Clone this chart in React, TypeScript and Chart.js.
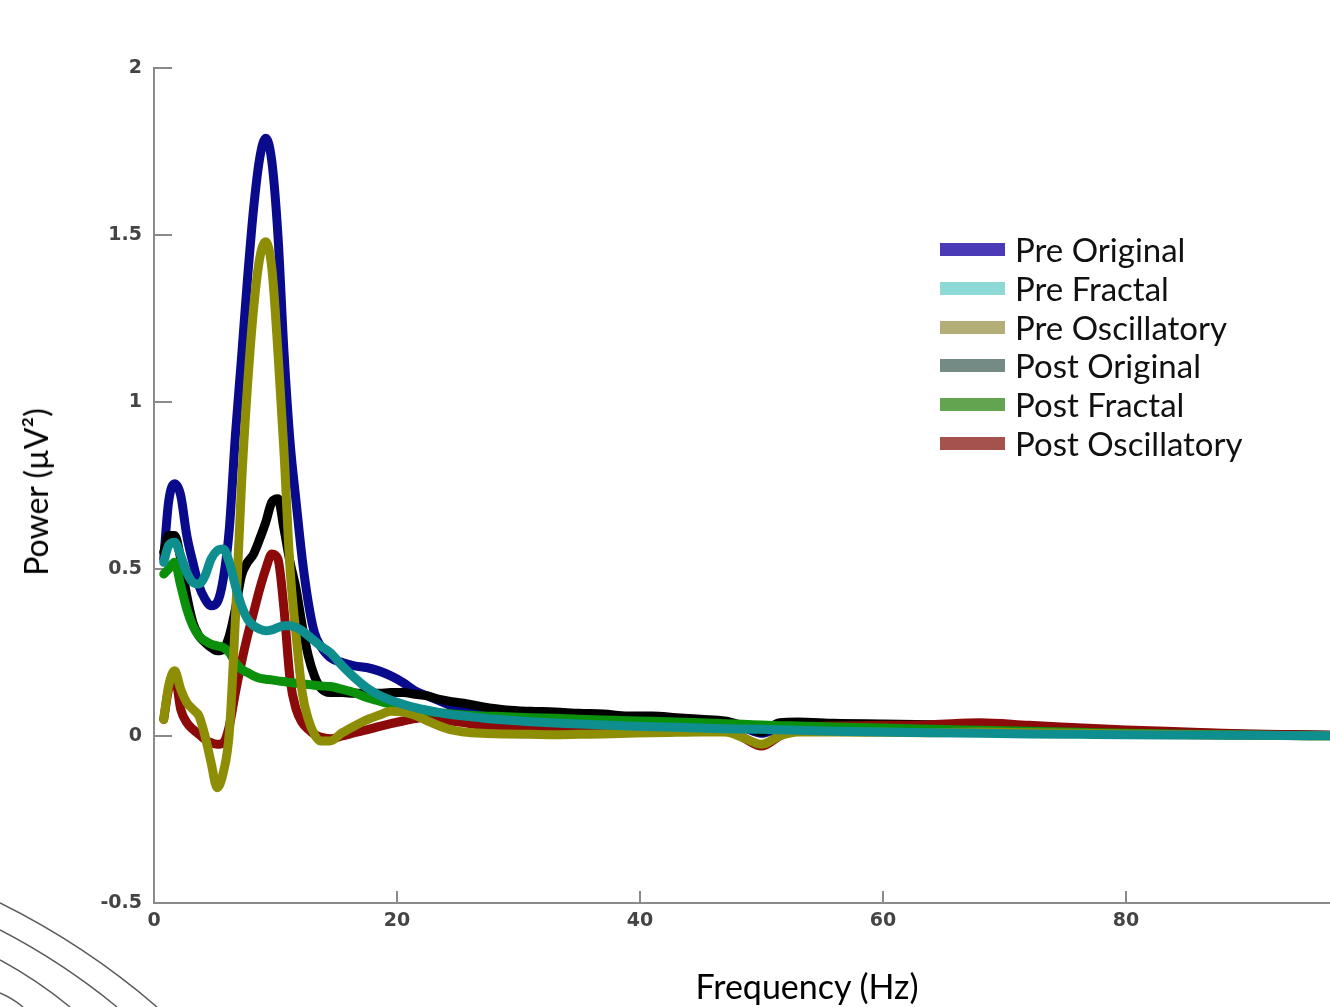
import React, { useEffect, useRef } from "react";
import { Chart, registerables } from "chart.js";

Chart.register(...registerables);

// ---- Data ----
const freqs = [
  0.8, 1.2, 1.7, 2.2, 2.7, 3.2, 3.7, 4.2, 4.7, 5.2, 5.7, 6.2, 6.7, 7.2, 7.7, 8.2, 8.7, 9.2, 9.7, 10.2,
  10.7, 11.2, 11.7, 12.2, 12.7, 13.2, 13.7, 14.5, 15.5, 16.5, 17.5, 18.5, 19.5, 20.5, 21.5, 22.5, 23.5,
  24.5, 25.5, 27, 29, 31, 33, 35, 37, 39, 41, 43, 45, 47, 48.5, 50, 51.5, 53, 56, 60, 64, 68, 72, 76,
  80, 85, 90, 95, 100,
];

const preOriginal = [
  0.53, 0.7, 0.755, 0.72, 0.6, 0.52, 0.45, 0.41, 0.39, 0.4, 0.47, 0.62, 0.9, 1.13, 1.37, 1.58, 1.73, 1.79, 1.72, 1.5,
  1.15, 0.88, 0.7, 0.53, 0.4, 0.31, 0.27, 0.235, 0.22, 0.21, 0.205, 0.195, 0.18, 0.16, 0.135, 0.12, 0.105,
  0.09, 0.078, 0.066, 0.058, 0.054, 0.05, 0.048, 0.045, 0.042, 0.04, 0.038, 0.037, 0.035, 0.025, 0.008, 0.025, 0.03, 0.028, 0.024, 0.02, 0.017, 0.013, 0.01,
  0.008, 0.005, 0.003, 0.002, 0.001,
];

const preFractal = [
  0.52, 0.57, 0.58, 0.54, 0.49, 0.46, 0.455, 0.48, 0.53, 0.555, 0.56, 0.52, 0.45, 0.39, 0.35, 0.33, 0.32, 0.315, 0.318, 0.325,
  0.33, 0.33, 0.325, 0.315, 0.3, 0.285, 0.27, 0.25, 0.21, 0.175, 0.145, 0.123, 0.107, 0.095, 0.085, 0.077, 0.07,
  0.064, 0.06, 0.054, 0.048, 0.043, 0.039, 0.036, 0.033, 0.03, 0.028, 0.026, 0.024, 0.022, 0.021, 0.02, 0.019, 0.017, 0.014, 0.012, 0.01, 0.008, 0.006, 0.005,
  0.004, 0.003, 0.002, 0.001, 0.0,
];

const preOscillatory = [
  0.05, 0.15, 0.195, 0.14, 0.1, 0.08, 0.06, 0.0, -0.08, -0.155, -0.11, 0.01, 0.35, 0.75, 1.05, 1.28, 1.43, 1.48, 1.4, 1.15,
  0.85, 0.5, 0.3, 0.13, 0.05, 0.005, -0.015, -0.015, 0.01, 0.03, 0.048, 0.062, 0.074, 0.072, 0.062, 0.045, 0.03,
  0.018, 0.012, 0.008, 0.006, 0.005, 0.004, 0.005, 0.006, 0.008, 0.01, 0.011, 0.012, 0.012, -0.005, -0.025, 0.0, 0.012, 0.012, 0.011, 0.01, 0.012, 0.01, 0.008,
  0.006, 0.004, 0.002, 0.001, 0.0,
];

const postOriginal = [
  0.55, 0.6, 0.6, 0.53, 0.42, 0.34, 0.3, 0.28, 0.265, 0.255, 0.26, 0.3, 0.38, 0.48, 0.52, 0.545, 0.59, 0.64, 0.7, 0.71,
  0.62, 0.52, 0.44, 0.33, 0.24, 0.18, 0.145, 0.13, 0.13, 0.128, 0.128, 0.128, 0.13, 0.13, 0.125, 0.12, 0.11,
  0.103, 0.098, 0.088, 0.078, 0.074, 0.072, 0.068, 0.066, 0.06, 0.06, 0.055, 0.05, 0.045, 0.03, 0.012, 0.04, 0.042, 0.038, 0.036, 0.034, 0.03, 0.025, 0.02,
  0.015, 0.01, 0.005, 0.003, 0.001,
];

const postFractal = [
  0.485, 0.5, 0.52, 0.45, 0.38, 0.33, 0.3, 0.285, 0.275, 0.27, 0.265, 0.25, 0.22, 0.2, 0.19, 0.18, 0.173, 0.17, 0.168, 0.165,
  0.163, 0.16, 0.158, 0.156, 0.154, 0.152, 0.15, 0.148, 0.14, 0.13, 0.115, 0.105, 0.095, 0.087, 0.08, 0.074, 0.07,
  0.066, 0.063, 0.06, 0.058, 0.055, 0.053, 0.05, 0.048, 0.046, 0.044, 0.042, 0.04, 0.037, 0.035, 0.033, 0.031, 0.03, 0.027, 0.024, 0.02, 0.017, 0.014, 0.011,
  0.008, 0.005, 0.003, 0.001, 0.0,
];

const postOscillatory = [
  0.05, 0.14, 0.18, 0.08, 0.04, 0.02, 0.005, -0.01, -0.02, -0.025, -0.02, 0.03, 0.13, 0.22, 0.3, 0.37, 0.44, 0.5, 0.545, 0.53,
  0.38, 0.17, 0.08, 0.04, 0.02, 0.005, -0.003, -0.008, 0.0, 0.01, 0.018, 0.028, 0.037, 0.045, 0.052, 0.056, 0.052,
  0.045, 0.04, 0.032, 0.026, 0.022, 0.019, 0.017, 0.016, 0.015, 0.016, 0.018, 0.02, 0.02, -0.005, -0.03, 0.0, 0.025, 0.03, 0.032, 0.034, 0.04, 0.032, 0.025,
  0.018, 0.012, 0.006, 0.003, 0.001,
];

const seriesNames = ["Pre Original", "Pre Fractal", "Pre Oscillatory", "Post Original", "Post Fractal", "Post Oscillatory"];
const seriesValues = [preOriginal, preFractal, preOscillatory, postOriginal, postFractal, postOscillatory];
const lineColors = ["#0a0a8c", "#0e8e8e", "#8e8e06", "#000000", "#0a900a", "#8c0a0a"];
const legendColors = ["#4b3ab5", "#8dd9d6", "#b5ad78", "#738a85", "#62a450", "#a5524e"];
// lower = drawn on top
const drawOrder = [6, 1, 2, 5, 3, 4];

const xTickValues = [0, 20, 40, 60, 80];
const yTickValues = [-0.5, 0, 0.5, 1, 1.5, 2];

const inwardTicks = {
  id: "inwardTicks",
  beforeDatasetsDraw(chart: any) {
    const { ctx, chartArea, scales } = chart;
    ctx.save();
    ctx.strokeStyle = "#8a8a8a";
    ctx.lineWidth = 2;
    ctx.beginPath();
    for (const v of yTickValues) {
      const py = Math.round(scales.y.getPixelForValue(v));
      ctx.moveTo(chartArea.left, py);
      ctx.lineTo(chartArea.left + 18, py);
    }
    for (const v of xTickValues) {
      const px = Math.round(scales.x.getPixelForValue(v));
      ctx.moveTo(px, chartArea.bottom);
      ctx.lineTo(px, chartArea.bottom - 12);
    }
    ctx.stroke();
    ctx.restore();
  },
};

const cornerArcs = {
  id: "cornerArcs",
  afterDraw(chart: any) {
    const { ctx } = chart;
    ctx.save();
    ctx.strokeStyle = "#5a5a5a";
    ctx.lineWidth = 1.5;
    const arcs = [
      [0, 903, 85, 945, 157, 1007],
      [0, 930, 62, 962, 117, 1007],
      [0, 960, 37, 980, 70, 1007],
      [0, 993, 12, 998, 23, 1007],
    ];
    for (const a of arcs) {
      ctx.beginPath();
      ctx.moveTo(a[0], a[1]);
      ctx.quadraticCurveTo(a[2], a[3], a[4], a[5]);
      ctx.stroke();
    }
    ctx.restore();
  },
};

export default function App() {
  const canvasRef = useRef<HTMLCanvasElement | null>(null);

  useEffect(() => {
    if (!canvasRef.current) return;
    const datasets = seriesValues.map((vals, i) => ({
      label: seriesNames[i],
      data: freqs.map((f, j) => ({ x: f, y: vals[j] })),
      borderColor: lineColors[i],
      backgroundColor: lineColors[i],
      borderWidth: 9,
      pointRadius: 0,
      cubicInterpolationMode: "monotone" as const,
      borderJoinStyle: "round" as const,
      borderCapStyle: "round" as const,
      fill: false,
      order: drawOrder[i],
    }));
    const tickFont = { family: "'DejaVu Sans', sans-serif", size: 19, weight: "bold" as const };
    const chart = new Chart(canvasRef.current, {
      type: "line",
      data: { datasets },
      plugins: [inwardTicks, cornerArcs],
      options: {
        animation: false,
        responsive: true,
        maintainAspectRatio: false,
        layout: { padding: { top: 68, left: 0, right: 0, bottom: 0 } },
        plugins: { legend: { display: false }, tooltip: { enabled: false } },
        scales: {
          x: {
            type: "linear",
            min: 0,
            max: 96.8,
            afterBuildTicks: (scale: any) => {
              scale.ticks = xTickValues.map((v) => ({ value: v }));
            },
            afterFit: (scale: any) => {
              scale.height = 104;
            },
            grid: { display: false, drawTicks: false },
            border: { display: true, color: "#8a8a8a", width: 2 },
            ticks: {
              color: "#444444",
              padding: 7,
              maxRotation: 0,
              font: tickFont,
              callback: (v: any) => `${v}`,
            },
          },
          y: {
            type: "linear",
            min: -0.5,
            max: 2,
            afterBuildTicks: (scale: any) => {
              scale.ticks = yTickValues.map((v) => ({ value: v }));
            },
            afterFit: (scale: any) => {
              scale.width = 154;
            },
            grid: { display: false, drawTicks: false },
            border: { display: true, color: "#8a8a8a", width: 2 },
            ticks: {
              color: "#444444",
              padding: 12,
              font: tickFont,
              callback: (v: any) => `${v}`,
            },
          },
        },
      },
    });
    return () => chart.destroy();
  }, []);

  return (
    <div style={{ position: "fixed", left: 0, top: 0, width: 1330, height: 1007, overflow: "hidden", background: "#fff" }}>
      <canvas ref={canvasRef} />
      <div
        style={{
          position: "absolute",
          left: 36,
          top: 492,
          transform: "translate(-50%, -50%) rotate(-90deg)",
          whiteSpace: "nowrap",
          fontFamily: "Lato, 'Noto Sans', sans-serif",
          fontSize: 32,
          color: "#000",
          lineHeight: 1,
        }}
      >
        Power (µV²)
      </div>
      <div
        style={{
          position: "absolute",
          left: 807,
          top: 986,
          transform: "translate(-50%, -50%)",
          whiteSpace: "nowrap",
          fontFamily: "Lato, 'Noto Sans', sans-serif",
          fontSize: 34,
          color: "#000",
          lineHeight: 1,
        }}
      >
        Frequency (Hz)
      </div>
      {seriesNames.map((name, i) => (
        <div
          key={name}
          style={{
            position: "absolute",
            left: 940,
            top: 250 + i * 38.8 - 19.5,
            height: 38,
            display: "flex",
            alignItems: "center",
            whiteSpace: "nowrap",
          }}
        >
          <div style={{ width: 65, height: 13, background: legendColors[i], marginRight: 10 }} />
          <span style={{ fontFamily: "Lato, 'Noto Sans', sans-serif", fontSize: 33, color: "#111", lineHeight: 1 }}>
            {name}
          </span>
        </div>
      ))}
    </div>
  );
}
